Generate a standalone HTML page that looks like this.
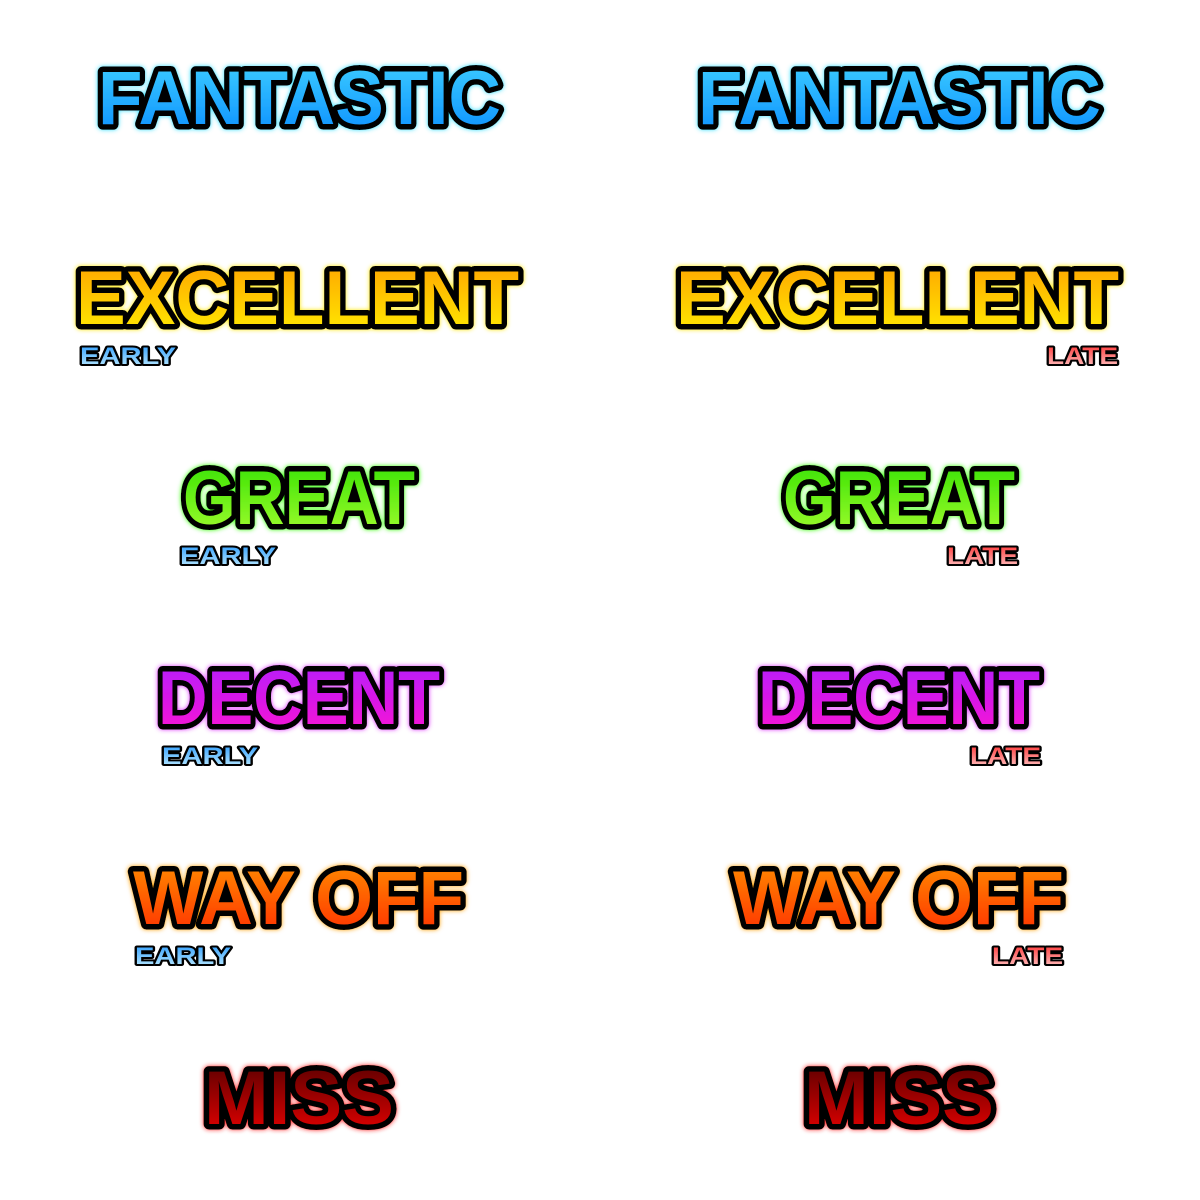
<!DOCTYPE html>
<html><head><meta charset="utf-8"><style>
html,body{margin:0;padding:0;background:#fff}
svg{display:block}
text{font-family:"Liberation Sans",sans-serif;font-weight:bold;paint-order:stroke fill;stroke:#000;stroke-linejoin:round}
</style></head><body>
<svg width="1200" height="1200" viewBox="0 0 1200 1200">
<defs>
<linearGradient id="gF" x1="0" y1="0" x2="0" y2="1"><stop offset="0" stop-color="#3fd0ff"/><stop offset="1" stop-color="#0a8cff"/></linearGradient>
<linearGradient id="gE" x1="0" y1="0" x2="0" y2="1"><stop offset="0" stop-color="#ffa000"/><stop offset="1" stop-color="#fff000"/></linearGradient>
<linearGradient id="gG" x1="0" y1="0" x2="0" y2="1"><stop offset="0" stop-color="#30e000"/><stop offset="1" stop-color="#a8ff30"/></linearGradient>
<linearGradient id="gD" x1="0" y1="0" x2="0" y2="1"><stop offset="0" stop-color="#b020ff"/><stop offset="1" stop-color="#ff10d0"/></linearGradient>
<linearGradient id="gW" x1="0" y1="0" x2="0" y2="1"><stop offset="0" stop-color="#ff9000"/><stop offset="1" stop-color="#ff2a00"/></linearGradient>
<linearGradient id="gM" x1="0" y1="0" x2="0" y2="1"><stop offset="0" stop-color="#500000"/><stop offset="1" stop-color="#f00000"/></linearGradient>
<linearGradient id="gEa" x1="0" y1="0" x2="0" y2="1"><stop offset="0" stop-color="#2a9cff"/><stop offset="1" stop-color="#c8f0ff"/></linearGradient>
<linearGradient id="gLa" x1="0" y1="0" x2="0" y2="1"><stop offset="0" stop-color="#ff3030"/><stop offset="1" stop-color="#ffd0d0"/></linearGradient>
<filter id="fF"><feDropShadow dx="0" dy="0" stdDeviation="2.5" flood-color="#30e0ff"/></filter>
<filter id="fE"><feDropShadow dx="0" dy="0" stdDeviation="2.5" flood-color="#ffe800"/></filter>
<filter id="fG"><feDropShadow dx="0" dy="0" stdDeviation="2.5" flood-color="#30ff00"/></filter>
<filter id="fD"><feDropShadow dx="0" dy="0" stdDeviation="2.5" flood-color="#e030ff"/></filter>
<filter id="fW"><feDropShadow dx="0" dy="0" stdDeviation="2.5" flood-color="#ffa000"/></filter>
<filter id="fM"><feDropShadow dx="0" dy="0" stdDeviation="2.5" flood-color="#ff2020"/></filter>
</defs>
<g id="c"></g>
</svg>
<script>
const words=['FANTASTIC','EXCELLENT','GREAT','DECENT','WAY OFF','MISS'];
const keys=['F','E','G','D','W','M'];
const leftX=[92,70,177,152,127,198];
const widths=[415,455,244,294,343,202];
const hasTiming=[false,true,true,true,true,false];
const earlyX=[0,78,178,160,133,0];
const lateX=[0,1045,945,968,990,0];
const ns='http://www.w3.org/2000/svg';
const g=document.getElementById('c');
function mk(txt,x,y,w,size,fill,filt,sw){
  const t=document.createElementNS(ns,'text');
  t.setAttribute('x',x);t.setAttribute('y',y);
  t.setAttribute('textLength',w);t.setAttribute('lengthAdjust','spacingAndGlyphs');
  t.setAttribute('font-size',size);t.setAttribute('fill',fill);
  t.setAttribute('stroke-width',sw);
  if(filt)t.setAttribute('filter',filt);
  t.textContent=txt;g.appendChild(t);return t;
}
words.forEach((w,i)=>{
  const by=i*200+124;
  [0,600].forEach(off=>{
    const t=mk(w,leftX[i]+off+6,by,widths[i]-12,76,'url(#g'+keys[i]+')','url(#f'+keys[i]+')',11);
    
    
  });
  if(hasTiming[i]){
    const ey=i*200+164;
    const e=mk('EARLY',earlyX[i]+2,ey,96,24,'url(#gEa)',null,4);
    
    
    const l=mk('LATE',lateX[i]+2,ey,71,24,'url(#gLa)',null,4);
    
    
  }
});
</script>
</body></html>
